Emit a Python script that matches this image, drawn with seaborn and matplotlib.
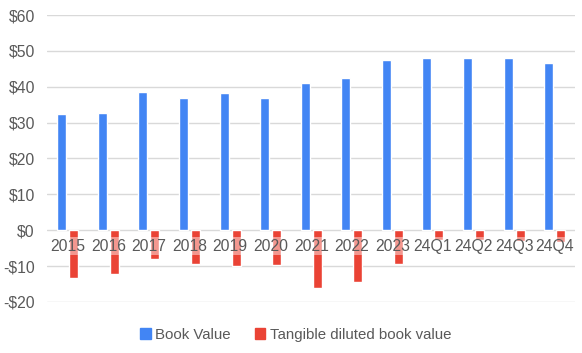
import matplotlib
matplotlib.use('Agg')
import matplotlib.pyplot as plt
import pandas as pd
import seaborn as sns

# values
periods = ['2015', '2016', '2017', '2018', '2019', '2020', '2021', '2022',
           '2023', '24Q1', '24Q2', '24Q3', '24Q4']
book_value = [32.4, 32.6, 38.5, 36.8, 38.2, 36.8, 41.0, 42.4, 47.4,
              47.9, 47.9, 47.9, 46.5]
tangible_value = [-13.2, -12.1, -7.9, -9.3, -10.1, -9.6, -16.2, -14.3,
                  -9.3, -2.6, -2.6, -3.1, -3.4]
series_names = ['Book Value', 'Tangible diluted book value']
y_ticks = [-20, -10, 0, 10, 20, 30, 40, 50, 60]

blue = '#4285F4'
red = '#EA4335'
text_color = '#595959'
grid_color = '#D9D9D9'

df = pd.DataFrame({
    'period': periods * 2,
    'value': book_value + tangible_value,
    'series': [series_names[0]] * len(periods) + [series_names[1]] * len(periods),
})

sns.set_style('white')
plt.rcParams['font.family'] = ['Liberation Sans', 'DejaVu Sans']

fig = plt.figure(figsize=(5.82, 3.53), dpi=100)
ax = fig.add_axes([0.0815, 0.1445, 0.9065, 0.813])

sns.barplot(data=df, x='period', y='value', hue='series', order=periods,
            hue_order=series_names, palette=[blue, red], width=0.59, gap=0.25,
            saturation=1, errorbar=None, ax=ax, legend=False, zorder=2)

# axis limits, ticks and grid
ax.set_ylim(-20, 60)
ax.set_xlim(-0.5, len(periods) - 0.5)
ax.set_yticks(y_ticks)
ax.set_yticklabels([f'-${-v}' if v < 0 else f'${v}' for v in y_ticks])
ax.yaxis.grid(True, color=grid_color, linewidth=1)
ax.set_axisbelow(True)
ax.set_xlabel('')
ax.set_ylabel('')
for side in ['top', 'right', 'left', 'bottom']:
    ax.spines[side].set_visible(False)

# x labels sit on the zero line, above the bars
ax.spines['bottom'].set_position(('data', 0))
ax.xaxis.set_zorder(3)
ax.tick_params(axis='x', length=0, pad=6, labelsize=11.3, labelcolor=text_color)
ax.tick_params(axis='y', length=0, pad=9, labelsize=11.3, labelcolor=text_color)
for lbl in ax.get_xticklabels():
    lbl.set_bbox(dict(facecolor='white', alpha=0.45, edgecolor='none', pad=1.0))

# legend at the bottom
handles = [plt.Rectangle((0, 0), 1, 1, color=c) for c in [blue, red]]
fig.legend(handles, series_names, loc='center', bbox_to_anchor=(0.508, 0.052),
           ncol=2, frameon=False, fontsize=10.8, labelcolor=text_color,
           handlelength=0.7, handleheight=0.7, handletextpad=0.3,
           columnspacing=1.6)

plt.savefig('out.png', dpi=100, facecolor='white')
